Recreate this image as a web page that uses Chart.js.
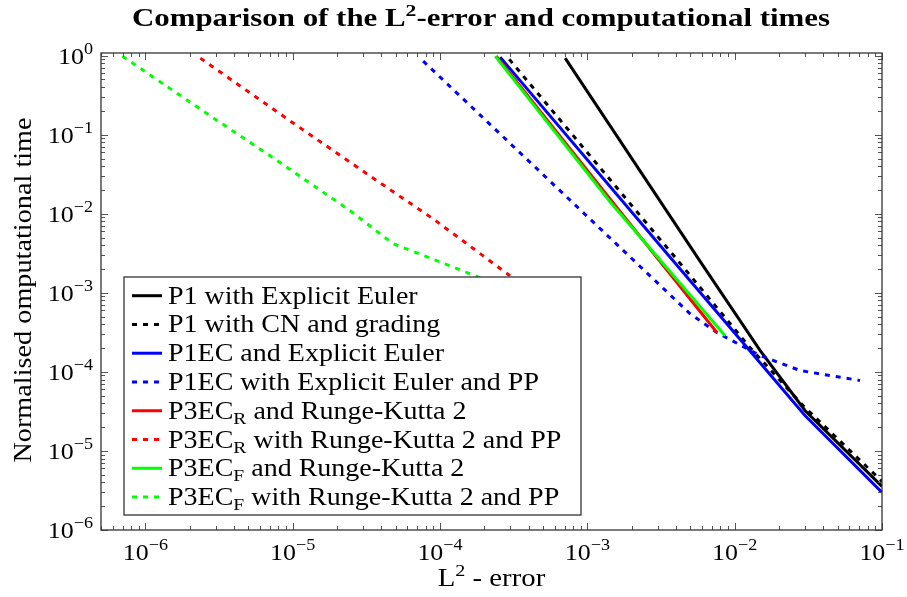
<!DOCTYPE html>
<html>
<head>
<meta charset="utf-8">
<script src="https://cdn.jsdelivr.net/npm/chart.js@4.4.1/dist/chart.umd.min.js"></script>
<style>
  html, body { margin: 0; padding: 0; background: #fff; }
  #wrap { width: 907px; height: 597px; }
</style>
</head>
<body>
<div id="wrap"><canvas id="myChart"></canvas></div>
<script>
// L2-error (x) and normalised computational time (y) for each method
const p1EulerErr = [7.07e-4, 5.83e-3, 1.49e-2, 3.0e-2, 0.1];
const p1EulerTime = [0.93, 2.5e-3, 1.86e-4, 3.25e-5, 3.56e-6];

const p1CnErr = [2.95e-4, 4.07e-3, 1.27e-2, 2.91e-2, 0.1];
const p1CnTime = [0.9, 2.62e-3, 2.03e-4, 3.75e-5, 4.12e-6];

const p1ecErr = [2.56e-4, 3.48e-3, 3.0e-2, 0.1];
const p1ecTime = [0.957, 3.12e-3, 2.81e-5, 2.99e-6];

const p1ecPpErr = [7.69e-5, 4.98e-3, 7.6e-3, 1.49e-2, 2.78e-2, 7.09e-2];
const p1ecPpTime = [0.852, 5.44e-4, 3.13e-4, 1.61e-4, 1.04e-4, 7.77e-5];

const p3rErr = [2.41e-4, 1.34e-3, 7.6e-3];
const p3rTime = [0.985, 0.0178, 3.13e-4];

const p3rPpErr = [2.36e-6, 9.63e-6, 3.75e-5, 8.99e-5, 2.99e-4];
const p3rPpTime = [0.93, 0.149, 0.026, 8.62e-3, 1.64e-3];

const p3fErr = [2.37e-4, 1.43e-3, 8.61e-3];
const p3fTime = [0.985, 0.0141, 2.87e-4];

const p3fPpErr = [6.98e-7, 2.47e-6, 7.38e-6, 2.46e-5, 4.81e-5, 9.57e-5, 2.19e-4];
const p3fPpTime = [0.985, 0.199, 0.0508, 1.09e-2, 4.17e-3, 2.54e-3, 1.38e-3];

const labels = [
  "P1 with Explicit Euler",
  "P1 with CN and grading",
  "P1EC and Explicit Euler",
  "P1EC with Explicit Euler and PP",
  "P3EC_R and Runge-Kutta 2",
  "P3EC_R with Runge-Kutta 2 and PP",
  "P3EC_F and Runge-Kutta 2",
  "P3EC_F with Runge-Kutta 2 and PP",
];
const colors = ["#000000", "#000000", "#0000ff", "#0000ff", "#ff0000", "#ff0000", "#00ff00", "#00ff00"];
const dotted = [false, true, false, true, false, true, false, true];
const errs = [p1EulerErr, p1CnErr, p1ecErr, p1ecPpErr, p3rErr, p3rPpErr, p3fErr, p3fPpErr];
const times = [p1EulerTime, p1CnTime, p1ecTime, p1ecPpTime, p3rTime, p3rPpTime, p3fTime, p3fPpTime];

const xMin = 5e-7, xMax = 0.1;
const yMin = 1e-6, yMax = 1.08;

const SERIF = '"Liberation Serif", "Times New Roman", serif';
const DASH = [5, 6];

// "P3EC_R ..." -> plain / subscript pieces
function parse(str) {
  const out = [];
  str.split(/_(\w)/).forEach((t, i) => {
    if (t) out.push(i % 2 ? { t, sub: true } : { t });
  });
  return out;
}

// text with sub/superscripts, stretched horizontally by sx
function drawRich(ctx, parts, x, y, size, align, bold, sx) {
  const list = parts.map(p => ({
    t: p.t,
    s: p.sub || p.sup ? size * 0.7 : size,
    dy: p.sub ? size * 0.2 : p.sup ? -size * 0.4 : 0,
  }));
  const font = s => (bold ? "bold " : "") + s + "px " + SERIF;
  const w = list.map(p => {
    ctx.font = font(p.s);
    return ctx.measureText(p.t).width * sx;
  });
  const total = w.reduce((a, b) => a + b, 0);
  let cx = align === "center" ? x - total / 2 : align === "right" ? x - total : x;
  ctx.textAlign = "left";
  ctx.textBaseline = "alphabetic";
  list.forEach((p, i) => {
    ctx.font = font(p.s);
    ctx.save();
    ctx.translate(cx, y + p.dy);
    ctx.scale(sx, 1);
    ctx.fillText(p.t, 0, 0);
    ctx.restore();
    cx += w[i];
  });
}

function line(ctx, x1, y1, x2, y2) {
  ctx.beginPath();
  ctx.moveTo(x1, y1);
  ctx.lineTo(x2, y2);
  ctx.stroke();
}

const decor = {
  id: "decor",
  beforeDraw(chart) {
    const ctx = chart.ctx;
    ctx.save();
    ctx.fillStyle = "#fff";
    ctx.fillRect(0, 0, chart.width, chart.height);
    ctx.restore();
  },
  afterDraw(chart) {
    const ctx = chart.ctx;
    const xs = chart.scales.x, ys = chart.scales.y;
    const { left, right, top, bottom } = chart.chartArea;
    ctx.save();

    // ticks pointing inward on all four sides
    ctx.strokeStyle = "#555";
    ctx.lineWidth = 1;
    for (let e = -7; e <= -1; e++) {
      for (let m = 1; m <= 9; m++) {
        const v = m * Math.pow(10, e);
        if (v < xMin * 0.999 || v > xMax * 1.001) continue;
        const px = Math.round(xs.getPixelForValue(v)) + 0.5;
        const len = m === 1 ? 7 : 4;
        line(ctx, px, bottom, px, bottom - len);
        line(ctx, px, top, px, top + len);
      }
    }
    for (let e = -6; e <= 0; e++) {
      for (let m = 1; m <= 9; m++) {
        const v = m * Math.pow(10, e);
        if (v < yMin * 0.999 || v > yMax * 1.001) continue;
        const py = Math.round(ys.getPixelForValue(v)) + 0.5;
        const len = m === 1 ? 7 : 4;
        line(ctx, left, py, left + len, py);
        line(ctx, right, py, right - len, py);
      }
    }

    // frame
    ctx.strokeStyle = "#333";
    ctx.lineWidth = 1.3;
    ctx.strokeRect(left, top, right - left, bottom - top);

    ctx.fillStyle = "#000";
    // tick labels
    for (let e = -6; e <= -1; e++) {
      const px = xs.getPixelForValue(Math.pow(10, e));
      drawRich(ctx, [{ t: "10" }, { t: "\u2212" + -e, sup: true }], px, 560, 24, "center", false, 1.08);
    }
    for (let e = -6; e <= 0; e++) {
      const py = ys.getPixelForValue(Math.pow(10, e));
      const ex = e === 0 ? "0" : "\u2212" + -e;
      drawRich(ctx, [{ t: "10" }, { t: ex, sup: true }], 93, py + 8, 24, "right", false, 1.08);
    }

    // axis titles
    drawRich(ctx, [{ t: "L" }, { t: "2", sup: true }, { t: " - error" }], (left + right) / 2, 586, 25, "center", false, 1.15);
    ctx.save();
    ctx.translate(31, 290);
    ctx.rotate(-Math.PI / 2);
    drawRich(ctx, [{ t: "Normalised omputational time" }], 0, 0, 25, "center", false, 1.13);
    ctx.restore();

    // title
    drawRich(ctx, [{ t: "Comparison of the L" }, { t: "2", sup: true }, { t: "-error and computational times" }],
      481, 26, 25, "center", true, 1.235);

    // legend box
    const bx = 124, by = 277, bw = 457, bh = 238, rowH = 28.76, row0 = 295.7;
    ctx.fillStyle = "#fff";
    ctx.fillRect(bx, by, bw, bh);
    ctx.strokeStyle = "#333";
    ctx.lineWidth = 1.3;
    ctx.strokeRect(bx, by, bw, bh);
    labels.forEach((lab, i) => {
      const cy = row0 + i * rowH;
      ctx.strokeStyle = colors[i];
      ctx.lineWidth = 3;
      ctx.setLineDash(dotted[i] ? DASH : []);
      line(ctx, 132, cy, 162, cy);
      ctx.setLineDash([]);
      ctx.fillStyle = "#000";
      drawRich(ctx, parse(lab), 168, cy + 8, 25, "left", false, 1.12);
    });
    ctx.restore();
  },
};

const ctx = document.getElementById("myChart");
const myChart = new Chart(ctx, {
  type: "line",
  data: {
    datasets: labels.map((label, i) => ({
      label: label,
      data: errs[i].map((x, k) => ({ x: x, y: times[i][k] })),
      borderColor: colors[i],
      borderWidth: 3,
      borderDash: dotted[i] ? DASH : [],
      borderCapStyle: "butt",
      pointRadius: 0,
      tension: 0,
      fill: false,
      order: labels.length - i,
    })),
  },
  options: {
    responsive: true,
    maintainAspectRatio: false,
    animation: false,
    layout: { padding: { top: 53, right: 25, left: 0, bottom: 0 } },
    scales: {
      x: {
        type: "logarithmic",
        min: xMin,
        max: xMax,
        ticks: { display: false },
        grid: { display: false },
        border: { display: false },
        afterFit: scale => { scale.height = 67; },
      },
      y: {
        type: "logarithmic",
        min: yMin,
        max: yMax,
        ticks: { display: false },
        grid: { display: false },
        border: { display: false },
        afterFit: scale => { scale.width = 101; },
      },
    },
    plugins: {
      legend: { display: false },
      title: { display: false },
      tooltip: { enabled: false },
    },
  },
  plugins: [decor],
});
</script>
</body>
</html>
